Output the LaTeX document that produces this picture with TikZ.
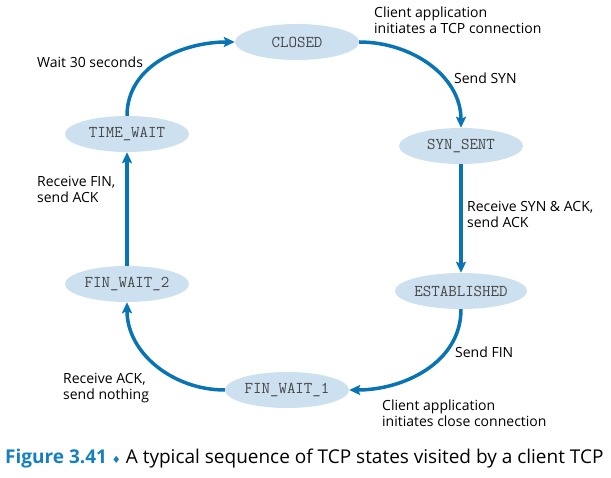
\documentclass[tikz,border=0pt]{standalone}
\usepackage{fontspec}
\setmainfont{Open Sans}
\newfontfamily\symfont{DejaVu Sans}
\usepackage{tikz}
\usetikzlibrary{arrows.meta,shapes.geometric}
\definecolor{tcpblue}{RGB}{8,116,180}
\definecolor{statefill}{RGB}{205,224,240}
\definecolor{statetext}{RGB}{70,70,70}
\definecolor{capblue}{RGB}{22,127,193}

\begin{document}
\begin{tikzpicture}[x=1pt,y=-1pt]
\useasboundingbox (0,0) rectangle (611,478);
\begin{scope}[every node/.style={ellipse,fill=statefill,minimum width=124pt,minimum height=36pt,inner sep=0pt,
              font=\ttfamily\fontsize{16.5}{18}\selectfont,text=statetext}]
    \node (CL) at (297,42) {CLOSED};
    \node (SS) at (461,146) {SYN\_SENT};
    \node (ES) at (461,291) {ESTABLISHED};
    \node (FW1) at (287,390) {FIN\_WAIT\_1};
    \node (FW2) at (127,284) {FIN\_WAIT\_2};
    \node (TW) at (127,134) {TIME\_WAIT};
\end{scope}

\begin{scope}[every node/.style={anchor=west,align=left,inner sep=0pt,
              font=\fontsize{14}{16}\selectfont}]
    \node (lCL) at (374,20) {Client application\\initiates a TCP connection};
    \node (lSS) at (454,78) {Send SYN};
    \node (lES) at (467,214) {Receive SYN \& ACK,\\send ACK};
    \node (lFW1) at (455,352) {Send FIN};
    \node (lCC) at (382,413) {Client application\\initiates close connection};
    \node (lFW2) at (63,388) {Receive ACK,\\send nothing};
    \node (lTW) at (37,189) {Receive FIN,\\send ACK};
    \node (lW) at (37,62) {Wait 30 seconds};
    \node (cap) at (5,459) {\fontsize{19}{22}\selectfont\textcolor{capblue}{\textbf{Figure 3.41}}
        {\symfont\fontsize{10}{10}\selectfont\textcolor{capblue}{♦}}
        A typical sequence of TCP states visited by a client TCP};
\end{scope}

\begin{scope}[>={Stealth[length=11pt,width=10pt,inset=2pt]},
              every edge/.style={draw=tcpblue,line width=3.5pt}]
    \path [->] (TW) edge[out=90,in=180] (CL);
    \path [->] (CL) edge[out=0,in=90] (SS);
    \path [->] (SS) edge (ES);
    \path [->] (ES) edge[out=-90,in=0] (FW1);
    \path [->] (FW1) edge[out=180,in=-90] (FW2);
    \path [->] (FW2) edge (TW);
\end{scope}
\end{tikzpicture}
\end{document}
